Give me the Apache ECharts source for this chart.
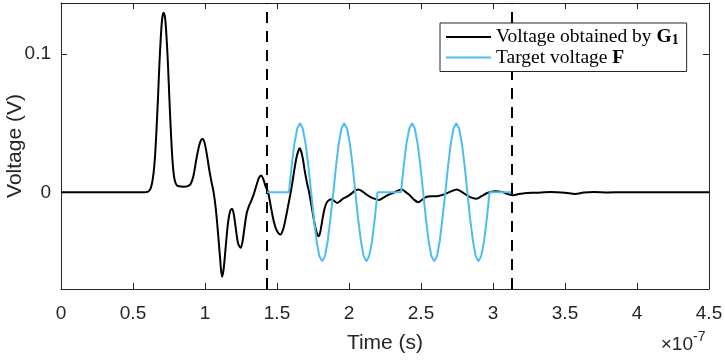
<!DOCTYPE html>
<html><head><meta charset="utf-8">
<script src="https://cdn.jsdelivr.net/npm/echarts@6/dist/echarts.min.js"></script>
<style>html,body{margin:0;padding:0;background:#fff}#c{width:725px;height:360px}</style>
</head><body><div id="c"></div>
<script>
// time in units of 1e-7 s, voltage in V
const blackTime = [0, 0.3, 0.58, 0.60, 0.613, 0.623, 0.633, 0.643, 0.653, 0.663, 0.673, 0.683, 0.693, 0.703, 0.713, 0.723, 0.733, 0.743, 0.753, 0.763, 0.773, 0.783, 0.793, 0.805, 0.82, 0.85, 0.88, 0.90, 0.92, 0.94, 0.96, 0.975, 0.985, 1.00, 1.015, 1.03, 1.045, 1.06, 1.075, 1.09, 1.105, 1.118, 1.13, 1.145, 1.16, 1.175, 1.188, 1.20, 1.215, 1.23, 1.248, 1.26, 1.275, 1.29, 1.305, 1.32, 1.34, 1.36, 1.375, 1.39, 1.405, 1.42, 1.438, 1.46, 1.48, 1.50, 1.524, 1.545, 1.56, 1.575, 1.59, 1.605, 1.62, 1.635, 1.648, 1.657, 1.667, 1.68, 1.695, 1.71, 1.723, 1.74, 1.76, 1.775, 1.79, 1.80, 1.815, 1.83, 1.845, 1.86, 1.88, 1.90, 1.918, 1.94, 1.96, 1.983, 2.01, 2.04, 2.064, 2.09, 2.12, 2.15, 2.18, 2.21, 2.24, 2.27, 2.30, 2.33, 2.366, 2.39, 2.42, 2.45, 2.481, 2.51, 2.54, 2.58, 2.62, 2.66, 2.70, 2.748, 2.78, 2.82, 2.86, 2.887, 2.92, 2.96, 3.015, 3.06, 3.10, 3.142, 3.18, 3.235, 3.3, 3.4, 3.5, 3.57, 3.63, 3.7, 3.8, 3.9, 4.1, 4.3, 4.5];
const blackVolt = [0, 0, 0, 0.0003, 0.0012, 0.003, 0.007, 0.014, 0.026, 0.045, 0.067, 0.092, 0.112, 0.126, 0.130, 0.126, 0.112, 0.092, 0.067, 0.044, 0.025, 0.013, 0.0075, 0.005, 0.0043, 0.004, 0.0045, 0.006, 0.012, 0.024, 0.034, 0.0382, 0.0386, 0.0345, 0.026, 0.016, 0.0075, 0, -0.012, -0.029, -0.048, -0.0612, -0.055, -0.038, -0.022, -0.0135, -0.012, -0.016, -0.027, -0.037, -0.0402, -0.036, -0.025, -0.015, -0.010, -0.0065, -0.001, 0.006, 0.0105, 0.0122, 0.0095, 0.0045, 0, -0.012, -0.022, -0.028, -0.0306, -0.026, -0.019, -0.011, -0.003, 0.006, 0.016, 0.025, 0.030, 0.0318, 0.030, 0.024, 0.014, 0.006, 0, -0.010, -0.022, -0.029, -0.0318, -0.029, -0.020, -0.012, -0.0075, -0.0058, -0.005, -0.0065, -0.0077, -0.0062, -0.0045, -0.0033, -0.0015, 0.001, 0.002, 0.0008, -0.0015, -0.0035, -0.0048, -0.0055, -0.0038, -0.002, -0.0008, 0.0008, 0.002, 0.0005, -0.002, -0.0052, -0.0072, -0.0052, -0.0032, -0.0029, -0.0027, -0.0015, 0.0003, 0.002, 0.0005, -0.0022, -0.0042, -0.0046, -0.0028, -0.0005, 0.0007, 0.0003, -0.0012, -0.0022, -0.0012, -0.0005, -0.0003, 0.0002, -0.0003, -0.0012, -0.0002, 0.0002, -0.0001, 0, 0.0001, 0, 0];

const targetTime = [1.43,
  1.583, 1.602, 1.621, 1.641, 1.660, 1.679, 1.698, 1.718, 1.737, 1.756, 1.775, 1.794, 1.814, 1.833, 1.852, 1.871, 1.891,
  1.910, 1.929, 1.948, 1.967, 1.987, 2.006, 2.025, 2.044, 2.063, 2.083, 2.102, 2.121, 2.140, 2.160, 2.179, 2.198,
  2.361, 2.380, 2.399, 2.419, 2.438, 2.457, 2.476, 2.496, 2.515, 2.534, 2.553, 2.572, 2.592, 2.611, 2.630, 2.649, 2.669,
  2.688, 2.707, 2.726, 2.745, 2.765, 2.784, 2.803, 2.822, 2.841, 2.861, 2.880, 2.899, 2.918, 2.938, 2.957, 2.976,
  3.126];
const targetVolt = [0,
  0, 0.0191, 0.0354, 0.0462, 0.05, 0.0462, 0.0354, 0.0191, 0, -0.0191, -0.0354, -0.0462, -0.05, -0.0462, -0.0354, -0.0191, 0,
  0.0191, 0.0354, 0.0462, 0.05, 0.0462, 0.0354, 0.0191, 0, -0.0191, -0.0354, -0.0462, -0.05, -0.0462, -0.0354, -0.0191, 0,
  0, 0.0191, 0.0354, 0.0462, 0.05, 0.0462, 0.0354, 0.0191, 0, -0.0191, -0.0354, -0.0462, -0.05, -0.0462, -0.0354, -0.0191, 0,
  0.0191, 0.0354, 0.0462, 0.05, 0.0462, 0.0354, 0.0191, 0, -0.0191, -0.0354, -0.0462, -0.05, -0.0462, -0.0354, -0.0191, 0,
  0];

const boundaryTimes = [1.427, 3.126];
const yTickValues = [0, 0.1];
const seriesNames = ['Voltage obtained by G1', 'Target voltage F'];
const axisTitles = { x: 'Time (s)', y: 'Voltage (V)' };
const xExponent = { base: '\u00d710', power: '-7' };

const zip = (a, b) => a.map((v, i) => [v, b[i]]);
const AX = '#262626';
const SANS = '"Liberation Sans", Arial, Helvetica, sans-serif';
const SERIF = '"Liberation Serif", "Times New Roman", serif';

const axisCommon = {
  axisLine: { show: true, onZero: false, lineStyle: { color: AX, width: 1 } },
  splitLine: { show: false }
};

const chart = echarts.init(document.getElementById('c'), null, { renderer: 'canvas' });
chart.setOption({
  animation: false,
  backgroundColor: '#fff',
  grid: { left: 61, right: 16, top: 3, bottom: 71, containLabel: false, outerBoundsMode: 'none' },
  legend: {
    data: seriesNames,
    orient: 'vertical',
    left: 440, top: 23, z: 50,
    itemGap: 0, itemWidth: 45, itemHeight: 2, icon: 'rect',
    padding: [4, 8, 4, 6],
    borderColor: AX, borderWidth: 1, backgroundColor: '#fff',
    selectedMode: false,
    formatter: function (name) {
      if (name === seriesNames[0]) return '{r|Voltage obtained by }{b|G}{s|1}';
      return '{r|Target voltage }{b|F}';
    },
    textStyle: {
      rich: {
        r: { fontFamily: SERIF, fontSize: 19.5, color: '#000', lineHeight: 21 },
        b: { fontFamily: SERIF, fontSize: 19.5, fontWeight: 'bold', color: '#000', lineHeight: 21 },
        s: { fontFamily: SERIF, fontSize: 14, fontWeight: 'bold', color: '#000', lineHeight: 12, verticalAlign: 'bottom' }
      }
    }
  },
  xAxis: [
    Object.assign({}, axisCommon, {
      type: 'value', min: 0, max: 4.5, interval: 0.5, position: 'bottom',
      axisTick: { show: true, inside: true, length: 6, lineStyle: { color: AX } },
      axisLabel: { fontFamily: SANS, fontSize: 19, color: AX, margin: 15 },
      name: axisTitles.x, nameLocation: 'middle', nameGap: 44, nameMoveOverlap: false,
      nameTextStyle: { fontFamily: SANS, fontSize: 21, color: AX }
    }),
    Object.assign({}, axisCommon, {
      type: 'value', min: 0, max: 4.5, interval: 0.5, position: 'top',
      axisTick: { show: true, inside: true, length: 6, lineStyle: { color: AX } },
      axisLabel: { show: false }
    })
  ],
  yAxis: [
    Object.assign({}, axisCommon, {
      type: 'value', min: -0.07, max: 0.137, position: 'left',
      axisTick: { show: true, inside: true, length: 6, lineStyle: { color: AX }, customValues: yTickValues },
      axisLabel: { fontFamily: SANS, fontSize: 19, color: AX, margin: 10, padding: [7, 0, 0, 0], customValues: yTickValues },
      name: axisTitles.y, nameLocation: 'middle', nameGap: 35, nameMoveOverlap: false,
      nameTextStyle: { fontFamily: SANS, fontSize: 21, color: AX }
    }),
    Object.assign({}, axisCommon, {
      type: 'value', min: -0.07, max: 0.137, position: 'right',
      axisTick: { show: true, inside: true, length: 6, lineStyle: { color: AX }, customValues: yTickValues },
      axisLabel: { show: false }
    })
  ],
  graphic: [
    { type: 'text', x: 693, y: 345, style: { text: xExponent.base, font: '19px ' + SANS, fill: AX, textAlign: 'right', textVerticalAlign: 'middle' } },
    { type: 'text', x: 693, y: 337, style: { text: xExponent.power, font: '14px ' + SANS, fill: AX, textAlign: 'left', textVerticalAlign: 'middle' } }
  ],
  series: [
    {
      name: seriesNames[0], type: 'line', xAxisIndex: 0, yAxisIndex: 0,
      data: zip(blackTime, blackVolt), showSymbol: false, symbol: 'none', smooth: 0.3,
      lineStyle: { color: '#000', width: 2 }, itemStyle: { color: '#000' },
      markLine: {
        silent: true, symbol: 'none', label: { show: false }, z: 1,
        lineStyle: { color: '#000', width: 2, type: [11, 8] },
        data: boundaryTimes.map(t => ({ xAxis: t }))
      }
    },
    {
      name: seriesNames[1], type: 'line', xAxisIndex: 0, yAxisIndex: 0,
      data: zip(targetTime, targetVolt), showSymbol: false, symbol: 'none',
      lineStyle: { color: '#4DBEEE', width: 2 }, itemStyle: { color: '#4DBEEE' }
    }
  ]
});
</script>
</body></html>
